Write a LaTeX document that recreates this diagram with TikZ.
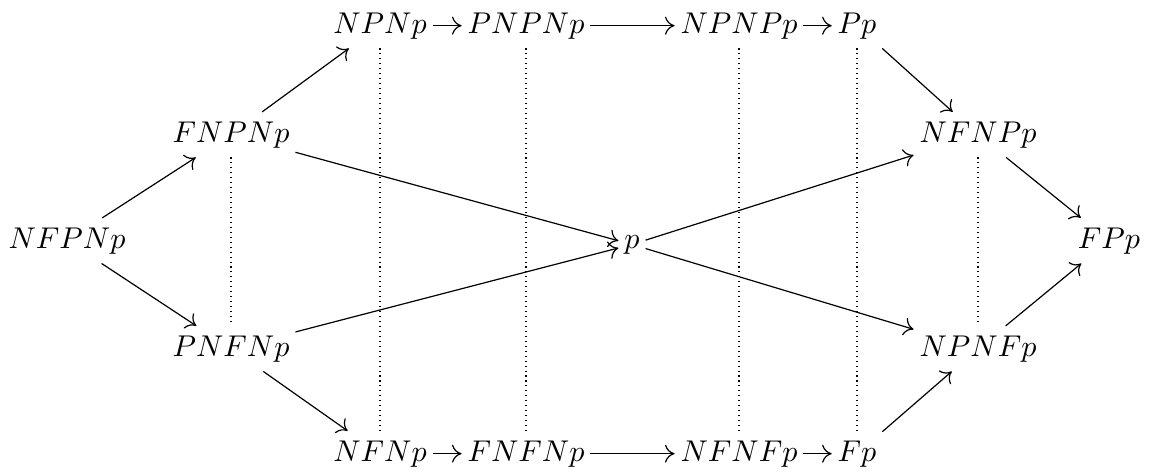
\documentclass[tikz,border=0pt]{standalone}
\usetikzlibrary{arrows.meta}
\begin{document}
\begin{tikzpicture}[x=0.333pt,y=-0.333pt,
  cell/.style={anchor=base,inner xsep=1.8pt,inner ysep=3pt},
  arr/.style={-{To[length=3.2pt,width=6pt]}, line width=0.4pt},
  dots/.style={dash pattern=on 0.35pt off 1.3pt, line width=0.35pt}]
\useasboundingbox (0,0) rectangle (1150,473);
\node[cell] (a) at (67,248) {$NFPNp$};
\node[cell] (b1) at (231,142) {$FNPNp$};
\node[cell] (b2) at (231,356) {$PNFNp$};
\node[cell] (t1) at (380,33) {$NPNp$};
\node[cell] (t2) at (526,33) {$PNPNp$};
\node[cell] (t3) at (739,33) {$NPNPp$};
\node[cell] (t4) at (857,33) {$Pp$};
\node[cell] (u1) at (380,461) {$NFNp$};
\node[cell] (u2) at (526,461) {$FNFNp$};
\node[cell] (u3) at (739,461) {$NFNFp$};
\node[cell] (u4) at (857,461) {$Fp$};
\node[cell] (m) at (632,248) {$p$};
\node[cell] (c1) at (978,142) {$NFNPp$};
\node[cell] (c2) at (978,356) {$NPNFp$};
\node[cell] (z) at (1109,248) {$FPp$};
\draw[arr] (a) -- (b1);
\draw[arr] (a) -- (b2);
\draw[arr] (b1) -- (t1);
\draw[arr] (b1) -- (m);
\draw[arr] (b2) -- (m);
\draw[arr] (b2) -- (u1);
\draw[arr] (t1) -- (t2);
\draw[arr] (t2) -- (t3);
\draw[arr] (t3) -- (t4);
\draw[arr] (t4) -- (c1);
\draw[arr] (u1) -- (u2);
\draw[arr] (u2) -- (u3);
\draw[arr] (u3) -- (u4);
\draw[arr] (u4) -- (c2);
\draw[arr] (m) -- (c1);
\draw[arr] (m) -- (c2);
\draw[arr] (c1) -- (z);
\draw[arr] (c2) -- (z);
\draw[dots] (b1) -- (b2);
\draw[dots] (c1) -- (c2);
\draw[dots] (t1) -- (u1);
\draw[dots] (t2) -- (u2);
\draw[dots] (t3) -- (u3);
\draw[dots] (t4) -- (u4);
\end{tikzpicture}
\end{document}
